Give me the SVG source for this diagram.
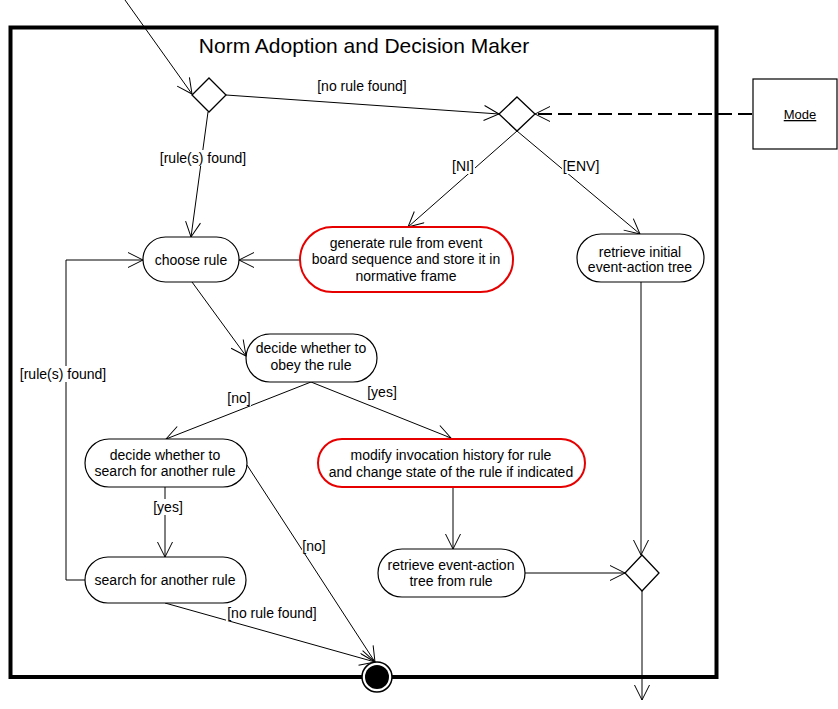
<svg xmlns="http://www.w3.org/2000/svg" width="838" height="709" viewBox="0 0 838 709">
  <defs>
    <style>
      text { font-family: "Liberation Sans", Arial, sans-serif; font-size: 14px; fill: #000; text-anchor: middle; }
      .title { font-size: 21px; }
      .act { fill: #fff; stroke: #000; stroke-width: 1.2; }
      .act.red { stroke: #e60000; stroke-width: 2; }
      .dec { fill: #fff; stroke: #000; stroke-width: 1.3; }
      .flow { fill: none; stroke: #000; stroke-width: 1; }
      .dep { fill: none; stroke: #000; stroke-width: 2; stroke-dasharray: 14 6; }
      .lblbg { fill: #fff; }
    </style>
    <marker id="arr" viewBox="-16 -8 17 16" refX="0" refY="0" markerWidth="17" markerHeight="16" orient="auto" markerUnits="userSpaceOnUse">
      <path d="M-15,-7.5 L0,0 L-15,7.5" fill="none" stroke="#000" stroke-width="1" stroke-dasharray="none"/>
    </marker>
  </defs>

  <rect width="838" height="709" fill="#fff"/>

  <!-- activity frame -->
  <g id="frame">
    <rect x="10.5" y="27.5" width="706" height="649.5" fill="none" stroke="#000" stroke-width="4"/>
    <text class="title" x="364" y="53">Norm Adoption and Decision Maker</text>
  </g>

  <!-- connectors -->
  <g id="connectors">
    <path class="flow" d="M125,0 L192,94" marker-end="url(#arr)"/>
    <path class="flow" d="M226,95 L499,114" marker-end="url(#arr)"/>
    <path class="flow" d="M208,112 L191,237" marker-end="url(#arr)"/>
    <path class="flow" d="M517,131 L408,227" marker-end="url(#arr)"/>
    <path class="flow" d="M517,131 L640,234" marker-end="url(#arr)"/>
    <path class="dep" d="M752,114 L535,114" marker-end="url(#arr)"/>
    <path class="flow" d="M300,260 L239,260" marker-end="url(#arr)"/>
    <path class="flow" d="M192,282 L246,356" marker-end="url(#arr)"/>
    <path class="flow" d="M311,382 L166,439" marker-end="url(#arr)"/>
    <path class="flow" d="M311,382 L451,438" marker-end="url(#arr)"/>
    <path class="flow" d="M453,487 L453,549" marker-end="url(#arr)"/>
    <path class="flow" d="M525,573 L625,573" marker-end="url(#arr)"/>
    <path class="flow" d="M641,282 L641,555" marker-end="url(#arr)"/>
    <path class="flow" d="M642,591 L642,700" marker-end="url(#arr)"/>
    <path class="flow" d="M165,487 L165,557" marker-end="url(#arr)"/>
    <path class="flow" d="M85,580 L66,580 L66,260 L143,260" marker-end="url(#arr)"/>
    <path class="flow" d="M165,603 L375,662" marker-end="url(#arr)"/>
    <path class="flow" d="M247,465 L375,662" marker-end="url(#arr)"/>
  </g>

  <!-- guard labels -->
  <g id="labels">
    <rect class="lblbg" x="316" y="78" width="93" height="16"/>
    <text x="362" y="91">[no rule found]</text>
    <rect class="lblbg" x="157" y="150" width="92" height="16"/>
    <text x="203" y="163">[rule(s) found]</text>
    <rect class="lblbg" x="452" y="158" width="23" height="16"/>
    <text x="463" y="171">[NI]</text>
    <rect class="lblbg" x="562" y="158" width="38" height="16"/>
    <text x="581" y="171">[ENV]</text>
    <rect class="lblbg" x="19" y="366" width="88" height="16"/>
    <text x="63" y="379">[rule(s) found]</text>
    <rect class="lblbg" x="227" y="390" width="24" height="16"/>
    <text x="239" y="403">[no]</text>
    <rect class="lblbg" x="367" y="384" width="31" height="16"/>
    <text x="382" y="397">[yes]</text>
    <rect class="lblbg" x="152" y="499" width="32" height="16"/>
    <text x="168" y="512">[yes]</text>
    <rect class="lblbg" x="302" y="538" width="24" height="16"/>
    <text x="314" y="551">[no]</text>
    <rect class="lblbg" x="226" y="605" width="92" height="16"/>
    <text x="272" y="618">[no rule found]</text>
  </g>

  <!-- decision / merge nodes -->
  <g id="decision1"><path class="dec" d="M209,78 L226,95 L209,112 L192,95 Z"/></g>
  <g id="decision2"><path class="dec" d="M517,97 L535,114 L517,131 L499,114 Z"/></g>
  <g id="merge"><path class="dec" d="M642,555 L659,573 L642,591 L625,573 Z"/></g>

  <!-- activities -->
  <g id="choose-rule">
    <rect class="act" x="143" y="237" width="96" height="45" rx="22.5"/>
    <text x="191" y="265">choose rule</text>
  </g>
  <g id="generate-rule">
    <rect class="act red" x="300" y="227" width="213" height="65" rx="32.5"/>
    <text x="406" y="248">generate rule from event</text>
    <text x="406" y="264">board sequence and store it in</text>
    <text x="406" y="281">normative frame</text>
  </g>
  <g id="retrieve-initial">
    <rect class="act" x="577" y="234" width="127" height="48" rx="24"/>
    <text x="640" y="257">retrieve initial</text>
    <text x="640" y="272">event-action tree</text>
  </g>
  <g id="decide-obey">
    <rect class="act" x="246" y="334" width="131" height="48" rx="24"/>
    <text x="311" y="353">decide whether to</text>
    <text x="311" y="370">obey the rule</text>
  </g>
  <g id="decide-search">
    <rect class="act" x="85" y="439" width="162" height="48" rx="24"/>
    <text x="165" y="460">decide whether to</text>
    <text x="165" y="476">search for another rule</text>
  </g>
  <g id="modify-history">
    <rect class="act red" x="318" y="439" width="267" height="48" rx="24"/>
    <text x="451" y="460">modify invocation history for rule</text>
    <text x="451" y="477">and change state of the rule if indicated</text>
  </g>
  <g id="retrieve-tree">
    <rect class="act" x="378" y="549" width="147" height="48" rx="24"/>
    <text x="451" y="570">retrieve event-action</text>
    <text x="451" y="586">tree from rule</text>
  </g>
  <g id="search-rule">
    <rect class="act" x="85" y="557" width="161" height="46" rx="23"/>
    <text x="165" y="585">search for another rule</text>
  </g>

  <!-- final node -->
  <g id="final">
    <circle cx="377" cy="677" r="15" fill="#fff" stroke="#000" stroke-width="1.5"/>
    <circle cx="377" cy="677" r="12" fill="#000"/>
  </g>

  <!-- mode object -->
  <g id="mode">
    <rect x="753" y="79" width="84" height="70" fill="#fff" stroke="#000" stroke-width="1.2"/>
    <text x="800" y="119" text-decoration="underline" style="font-size:13px">Mode</text>
  </g>
</svg>
